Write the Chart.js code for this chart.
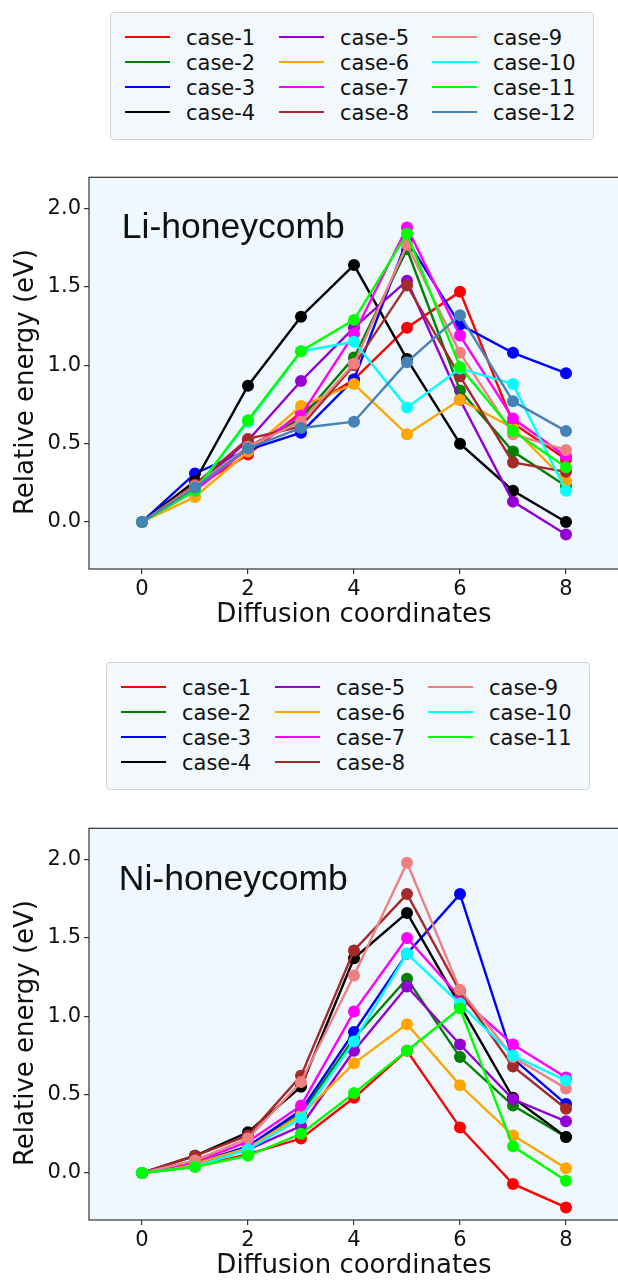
<!DOCTYPE html>
<html><head><meta charset="utf-8">
<script src="https://cdn.jsdelivr.net/npm/chart.js@4.4.0/dist/chart.umd.min.js"></script>
<style>
html,body{margin:0;padding:0;background:#fff;overflow:hidden;width:618px;height:1281px;position:relative;font-family:"DejaVu Sans",sans-serif;}
canvas{position:absolute;left:0;}
.legend{position:absolute;box-sizing:border-box;border:1px solid #d4d4d4;border-radius:4px;background:#f3f8fd;}
.lh{position:absolute;height:2px;width:45px;}
.lt{position:absolute;font-size:21px;line-height:24px;white-space:nowrap;color:#111;}
.ytitle{position:absolute;font-size:26px;line-height:30px;white-space:nowrap;width:400px;height:30px;text-align:center;transform:rotate(-90deg);color:#111;}
.ptitle{position:absolute;font-family:"Liberation Sans",Arial,sans-serif;font-size:35.5px;line-height:36px;width:300px;text-align:center;white-space:nowrap;color:#111;}
</style></head><body>
<div id="legTop" class="legend" style="left:110px;top:12px;width:484px;height:128px;"></div>
<canvas id="cTop" width="625" height="480" style="top:160px;width:625px;height:480px;"></canvas>
<div class="ptitle" style="left:83.3px;top:208px;">Li-honeycomb</div>
<div class="ytitle" style="left:-175.7px;top:367px;">Relative energy (eV)</div>

<div id="legBot" class="legend" style="left:106px;top:662px;width:484px;height:128px;"></div>
<canvas id="cBot" width="625" height="480" style="top:811px;width:625px;height:480px;"></canvas>
<div class="ptitle" style="left:83.3px;top:859.7px;">Ni-honeycomb</div>
<div class="ytitle" style="left:-175.7px;top:1018px;">Relative energy (eV)</div>

<script>
// ---- data ----
const coords = [0, 1, 2, 3, 4, 5, 6, 7, 8];
const xTickValues = [0, 2, 4, 6, 8];
const yTickValues = [0, 0.5, 1.0, 1.5, 2.0];
const caseNames = ['case-1','case-2','case-3','case-4','case-5','case-6','case-7','case-8','case-9','case-10','case-11','case-12'];
const caseColors = ['#ff0000','#008000','#0000ff','#000000','#9400d3','#ffa500','#ff00ff','#a52a2a','#f08080','#00ffff','#00ff00','#4682b4'];

// Li-honeycomb
const liCase1  = [0, 0.22, 0.43, 0.70, 0.91, 1.24, 1.47, 0.63, 0.40];
const liCase2  = [0, 0.22, 0.48, 0.66, 1.05, 1.74, 0.84, 0.45, 0.23];
const liCase3  = [0, 0.31, 0.46, 0.57, 0.91, 1.80, 1.26, 1.08, 0.95];
const liCase4  = [0, 0.26, 0.87, 1.31, 1.64, 1.04, 0.50, 0.20, 0.00];
const liCase5  = [0, 0.22, 0.52, 0.90, 1.24, 1.54, 0.78, 0.13, -0.08];
const liCase6  = [0, 0.16, 0.45, 0.74, 0.88, 0.56, 0.78, 0.60, 0.26];
const liCase7  = [0, 0.20, 0.47, 0.68, 1.20, 1.88, 1.19, 0.66, 0.42];
const liCase8  = [0, 0.24, 0.53, 0.61, 1.00, 1.51, 0.93, 0.38, 0.32];
const liCase9  = [0, 0.23, 0.48, 0.64, 1.01, 1.77, 1.08, 0.56, 0.46];
const liCase10 = [0, 0.20, 0.64, 1.09, 1.15, 0.73, 0.98, 0.88, 0.20];
const liCase11 = [0, 0.20, 0.65, 1.09, 1.29, 1.84, 0.99, 0.58, 0.35];
const liCase12 = [0, 0.22, 0.47, 0.60, 0.64, 1.02, 1.32, 0.77, 0.58];

// Ni-honeycomb
const niCase1  = [0, 0.04, 0.12, 0.22, 0.48, 0.78, 0.29, -0.07, -0.22];
const niCase2  = [0, 0.06, 0.17, 0.38, 0.86, 1.24, 0.74, 0.43, 0.23];
const niCase3  = [0, 0.06, 0.17, 0.40, 0.90, 1.40, 1.78, 0.73, 0.44];
const niCase4  = [0, 0.11, 0.26, 0.55, 1.37, 1.66, 1.07, 0.48, 0.23];
const niCase5  = [0, 0.06, 0.15, 0.30, 0.78, 1.19, 0.82, 0.47, 0.33];
const niCase6  = [0, 0.06, 0.16, 0.37, 0.70, 0.95, 0.56, 0.24, 0.03];
const niCase7  = [0, 0.07, 0.20, 0.43, 1.03, 1.50, 1.12, 0.82, 0.61];
const niCase8  = [0, 0.11, 0.24, 0.62, 1.42, 1.78, 1.16, 0.68, 0.41];
const niCase9  = [0, 0.08, 0.22, 0.58, 1.26, 1.98, 1.17, 0.74, 0.54];
const niCase10 = [0, 0.04, 0.15, 0.35, 0.84, 1.40, 1.08, 0.75, 0.59];
const niCase11 = [0, 0.04, 0.11, 0.25, 0.51, 0.78, 1.05, 0.17, -0.05];

const liSeries = [liCase1, liCase2, liCase3, liCase4, liCase5, liCase6, liCase7, liCase8, liCase9, liCase10, liCase11, liCase12];
const niSeries = [niCase1, niCase2, niCase3, niCase4, niCase5, niCase6, niCase7, niCase8, niCase9, niCase10, niCase11];

// ---- rendering ----
const FAMILY = '"DejaVu Sans", sans-serif';
const frame = {
  id: 'frame',
  beforeDraw(chart) {
    const a = chart.chartArea, c = chart.ctx;
    c.save(); c.fillStyle = '#f0f8ff';
    c.fillRect(a.left, a.top, a.right - a.left, a.bottom - a.top);
    c.restore();
  },
  afterDraw(chart) {
    const a = chart.chartArea, c = chart.ctx;
    c.save(); c.strokeStyle = '#333'; c.lineWidth = 1.2;
    c.strokeRect(a.left, a.top, a.right - a.left, a.bottom - a.top);
    c.restore();
  }
};

function buildLegend(id, n) {
  const el = document.getElementById(id);
  for (let i = 0; i < n; i++) {
    const col = Math.floor(i / 4), row = i % 4;
    const y = Math.round(24 + row * 25.1);
    const h = document.createElement('div');
    h.className = 'lh';
    h.style.left = Math.round(14 + col * 153.7) + 'px';
    h.style.top = (y - 1) + 'px';
    h.style.background = caseColors[i];
    el.appendChild(h);
    const t = document.createElement('div');
    t.className = 'lt';
    t.style.left = Math.round(75 + col * 153.7) + 'px';
    t.style.top = (y - 11) + 'px';
    t.textContent = caseNames[i];
    el.appendChild(t);
  }
}

function makeChart(id, series) {
  const n = series.length;
  const datasets = series.map((vals, i) => ({
    label: caseNames[i],
    data: coords.map((x, j) => ({ x: x, y: vals[j] })),
    borderColor: caseColors[i],
    backgroundColor: caseColors[i],
    pointBackgroundColor: caseColors[i],
    pointBorderColor: caseColors[i],
    pointBorderWidth: 0,
    pointRadius: 6,
    pointHoverRadius: 6,
    borderWidth: 2.4,
    tension: 0,
    fill: false,
    order: n - i
  }));
  return new Chart(document.getElementById(id), {
    type: 'line',
    data: { datasets },
    plugins: [frame],
    options: {
      responsive: false,
      devicePixelRatio: 1,
      animation: false,
      events: [],
      layout: { padding: { top: 17.3, left: 0, right: 0, bottom: 0 } },
      plugins: { legend: { display: false }, tooltip: { enabled: false } },
      scales: {
        x: {
          type: 'linear', min: -1, max: 9,
          afterBuildTicks: s => { s.ticks = xTickValues.map(v => ({ value: v })); },
          afterFit: s => { s.height = 71; },
          border: { display: false },
          grid: { display: true, drawOnChartArea: false, drawTicks: true, tickLength: 5, color: '#333', lineWidth: 1.2 },
          ticks: { font: { size: 21, family: FAMILY }, color: '#111', padding: 3, maxRotation: 0, autoSkip: false, callback: v => String(v) },
          title: { display: true, text: 'Diffusion coordinates', color: '#111', font: { size: 26, family: FAMILY }, padding: { top: 0, bottom: 9.4 } }
        },
        y: {
          type: 'linear', min: -0.3, max: 2.2,
          afterBuildTicks: s => { s.ticks = yTickValues.map(v => ({ value: v })); },
          afterFit: s => { s.width = 89; },
          border: { display: false },
          grid: { display: true, drawOnChartArea: false, drawTicks: true, tickLength: 5, color: '#333', lineWidth: 1.2 },
          ticks: { font: { size: 21, family: FAMILY }, color: '#111', padding: 3, autoSkip: false, callback: v => Number(v).toFixed(1) },
          title: { display: false }
        }
      }
    }
  });
}

buildLegend('legTop', liSeries.length);
buildLegend('legBot', niSeries.length);
makeChart('cTop', liSeries);
makeChart('cBot', niSeries);
</script>
</body></html>
